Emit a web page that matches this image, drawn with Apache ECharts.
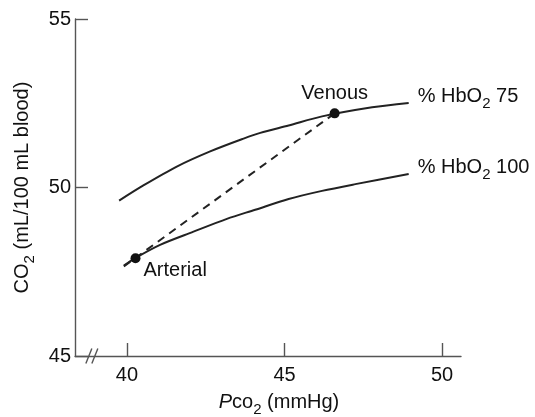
<!DOCTYPE html>
<html>
<head>
<meta charset="utf-8">
<script src="https://cdn.jsdelivr.net/npm/echarts@6/dist/echarts.min.js"></script>
<style>html,body{margin:0;padding:0;background:#fff}#c{width:535px;height:417px}</style>
</head>
<body>
<div id="c"></div>
<script>
// ---- data ----
const hb75Pco2 = [39.75, 40.52, 41.58, 42.64, 43.70, 44.23, 45.13, 46.19, 47.78, 48.94];
const hb75CO2  = [49.61, 50.06, 50.62, 51.07, 51.45, 51.62, 51.84, 52.11, 52.38, 52.51];
const hb100Pco2 = [39.9, 40.25, 41.05, 42.11, 43.17, 44.07, 45.13, 46.19, 47.25, 48.94];
const hb100CO2  = [47.68, 47.90, 48.30, 48.69, 49.07, 49.34, 49.66, 49.90, 50.10, 50.40];
const dashPco2 = [39.9, 46.59];
const dashCO2  = [47.66, 52.2];
const pointNames = ['Arterial', 'Venous'];
const pointPco2 = [40.27, 46.59];
const pointCO2  = [47.9, 52.2];
const xTicks = [40, 45, 50];
const curveLabels = ['75', '100'];
const breakAt = [38.98, 45];

const zip = (a, b) => a.map((v, i) => [v, b[i]]);
const FONT = 'Liberation Sans';
const TXT = '#111';
const subStyle = {fontSize: 15, fontFamily: FONT, color: TXT, lineHeight: 15, padding: [10, 0, 0, 0]};
const nStyle = {fontSize: 20, fontFamily: FONT, color: TXT, lineHeight: 20, padding: [0, 0, 5, 0]};

const chart = echarts.init(document.getElementById('c'), null, {renderer: 'canvas'});
chart.setOption({
  animation: false,
  grid: {left: 75, right: 74, top: 19, bottom: 61, outerBoundsMode: 'none', containLabel: false},
  xAxis: {
    type: 'value', min: 38.35, max: 50.6,
    axisLine: {show: true, lineStyle: {color: '#555', width: 1.4}},
    axisTick: {show: true, inside: true, length: 13, customValues: xTicks, lineStyle: {color: '#555', width: 1.4}},
    axisLabel: {customValues: xTicks, margin: 9, fontSize: 20, fontFamily: FONT, color: TXT},
    splitLine: {show: false},
    name: '{i|P}{n|co}{sub|2}{n| (mmHg)}',
    nameLocation: 'middle', nameGap: 39,
    nameTextStyle: {padding: [0, 0, 0, 22], rich: {i: Object.assign({}, nStyle, {fontStyle: 'italic'}), n: nStyle, sub: subStyle}}
  },
  yAxis: {
    type: 'value', min: 45, max: 55, interval: 5,
    axisLine: {show: true, lineStyle: {color: '#555', width: 1.4}},
    axisTick: {show: true, inside: true, length: 13, lineStyle: {color: '#555', width: 1.4}},
    axisLabel: {margin: 4, fontSize: 20, fontFamily: FONT, color: TXT},
    splitLine: {show: false},
    name: '{n|CO}{sub|2}{n| (mL/100 mL blood)}',
    nameLocation: 'middle', nameGap: 38, nameRotate: 90,
    nameTextStyle: {rich: {n: nStyle, sub: subStyle}}
  },
  series: [
    {
      type: 'line', data: zip(hb75Pco2, hb75CO2), smooth: 0.3, showSymbol: false,
      lineStyle: {color: '#222', width: 2},
      endLabel: {show: true, distance: 9, offset: [0, -4], formatter: '{n|% HbO}{sub|2}{n| ' + curveLabels[0] + '}', rich: {n: nStyle, sub: subStyle}}
    },
    {
      type: 'line', data: zip(hb100Pco2, hb100CO2), smooth: 0.3, showSymbol: false,
      lineStyle: {color: '#222', width: 2},
      endLabel: {show: true, distance: 9, offset: [0, -4], formatter: '{n|% HbO}{sub|2}{n| ' + curveLabels[1] + '}', rich: {n: nStyle, sub: subStyle}}
    },
    {
      type: 'line', data: zip(dashPco2, dashCO2), showSymbol: false,
      lineStyle: {color: '#222', width: 2, type: [8, 6]}
    },
    {
      type: 'scatter', symbolSize: 10, itemStyle: {color: '#111', opacity: 1}, z: 5,
      data: pointNames.map((n, i) => ({
        name: n, value: [pointPco2[i], pointCO2[i]],
        label: i === 0
          ? {show: true, position: 'right', distance: 3, offset: [0, 12], formatter: '{b}', fontSize: 20, fontFamily: FONT, color: TXT, opacity: 1}
          : {show: true, position: 'top', distance: 5, formatter: '{b}', fontSize: 20, fontFamily: FONT, color: TXT, opacity: 1}
      }))
    },
    {
      type: 'custom', clip: false, silent: true, z: 6,
      data: [breakAt],
      renderItem: function (params, api) {
        const p = api.coord([api.value(0), api.value(1)]);
        const st = {stroke: '#555', lineWidth: 1.4};
        return {type: 'group', children: [
          {type: 'line', shape: {x1: p[0] - 9, y1: p[1] + 7.5, x2: p[0] - 3, y2: p[1] - 7.5}, style: st},
          {type: 'line', shape: {x1: p[0] - 3, y1: p[1] + 7.5, x2: p[0] + 3, y2: p[1] - 7.5}, style: st}
        ]};
      }
    }
  ]
});
</script>
</body>
</html>
